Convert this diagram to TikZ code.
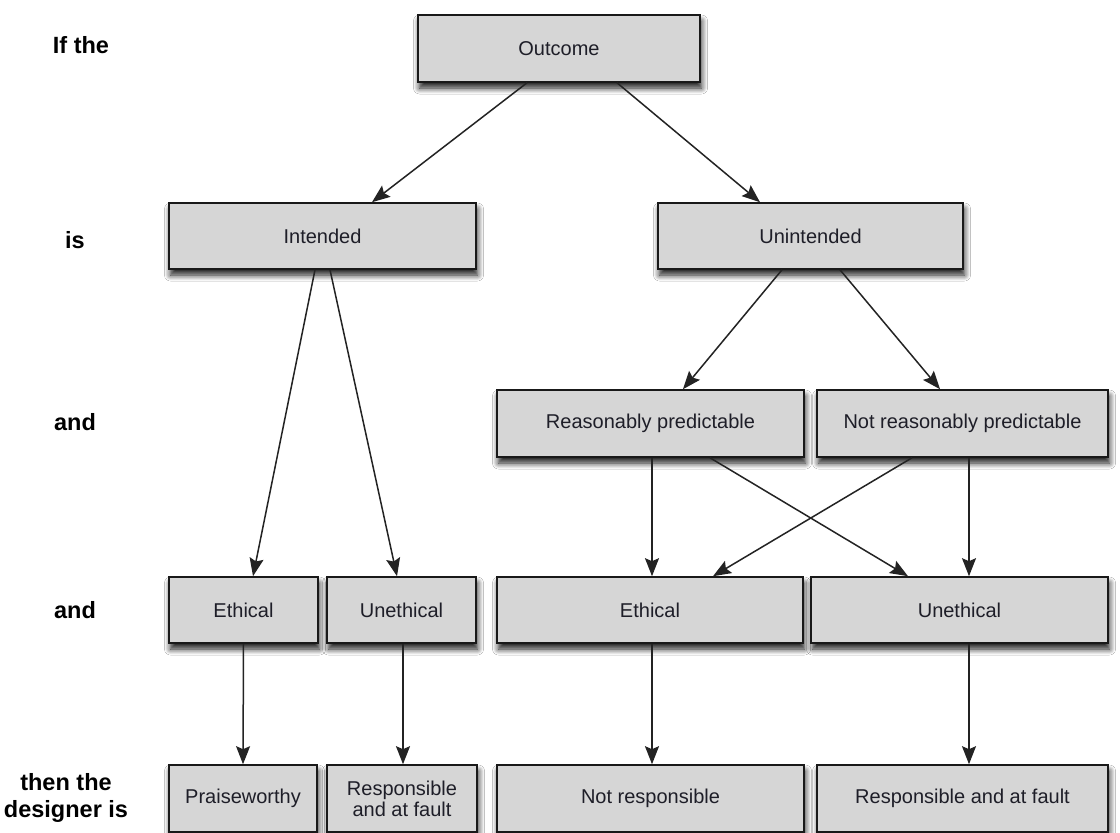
\documentclass[tikz,border=0pt]{standalone}
\usepackage{fontspec}
\setmainfont{Liberation Sans}
\usetikzlibrary{arrows.meta,shadows.blur}
\definecolor{boxfill}{RGB}{214,214,214}
\definecolor{boxline}{RGB}{25,25,25}
\definecolor{wire}{RGB}{35,35,35}
\definecolor{ink}{RGB}{30,30,40}
\begin{document}
\begin{tikzpicture}[x=1pt,y=-1pt,
  box/.style={draw=boxline,line width=1.6pt,fill=boxfill,inner sep=2pt,
    text=ink,font=\fontsize{20}{23}\selectfont,align=center,
    blur shadow={shadow xshift=1.5pt,shadow yshift=-6pt,shadow blur radius=6pt,
      shadow blur steps=8,shadow opacity=90}},
  rowlabel/.style={font=\fontsize{23.5}{27}\selectfont\bfseries,align=center,text=black},
  link/.style={draw=wire,line width=1.5pt,-{Stealth[length=18pt,width=14pt,inset=3pt]}}]
\useasboundingbox (0,0) rectangle (1120,833);
\fill[white] (0,0) rectangle (1120,833);

% row labels
\node[rowlabel] (lab1) at (81,45) {If the};
\node[rowlabel] (lab2) at (75,240) {is};
\node[rowlabel] (lab3) at (75,422) {and};
\node[rowlabel] (lab4) at (75,610) {and};
\node[rowlabel] (lab5) at (66,798) {then the\\designer is};

% boxes
\node[box,minimum width=282pt,minimum height=67pt] (out) at (559,48.5) {Outcome};
\node[box,minimum width=307pt,minimum height=66pt] (int) at (322.5,236) {Intended};
\node[box,minimum width=305pt,minimum height=66pt] (unint) at (810.5,236) {Unintended};
\node[box,minimum width=307pt,minimum height=67pt] (rp) at (650.5,423.5) {Reasonably predictable};
\node[box,minimum width=291pt,minimum height=67pt] (nrp) at (962.5,423.5) {Not reasonably predictable};
\node[box,minimum width=149pt,minimum height=66pt] (ethL) at (243.5,610) {Ethical};
\node[box,minimum width=149pt,minimum height=66pt] (unethL) at (401.5,610) {Unethical};
\node[box,minimum width=306pt,minimum height=66pt] (ethR) at (650,610) {Ethical};
\node[box,minimum width=297pt,minimum height=66pt] (unethR) at (959.5,610) {Unethical};
\node[box,minimum width=148pt,minimum height=67pt] (praise) at (243,798.5) {Praiseworthy};
\node[box,minimum width=150pt,minimum height=67pt] (respL) at (402,798.5) {Responsible\\[-2pt]and at fault};
\node[box,minimum width=307pt,minimum height=67pt] (notresp) at (650.5,798.5) {Not responsible};
\node[box,minimum width=291pt,minimum height=67pt] (respR) at (962.5,798.5) {Responsible and at fault};

% connectors
\draw[link] ([xshift=-32pt]out.south) -- ([xshift=49.5pt]int.north);
\draw[link] ([xshift=58pt]out.south) -- ([xshift=-50.5pt]unint.north);
\draw[link] ([xshift=-7.5pt]int.south) -- ([xshift=9.5pt]ethL.north);
\draw[link] ([xshift=7.5pt]int.south) -- ([xshift=-4.5pt]unethL.north);
\draw[link] ([xshift=-28.5pt]unint.south) -- ([xshift=32.5pt]rp.north);
\draw[link] ([xshift=29.5pt]unint.south) -- ([xshift=-22.5pt]nrp.north);
\draw[link] ([xshift=1.5pt]rp.south) -- ([xshift=2pt]ethR.north);
\draw[link] ([xshift=59.5pt]rp.south) -- ([xshift=-51.5pt]unethR.north);
\draw[link] ([xshift=-50.5pt]nrp.south) -- ([xshift=63pt]ethR.north);
\draw[link] ([xshift=6.5pt]nrp.south) -- ([xshift=9.5pt]unethR.north);
\draw[link] (ethL.south) -- (praise.north);
\draw[link] ([xshift=1.5pt]unethL.south) -- ([xshift=1pt]respL.north);
\draw[link] ([xshift=2pt]ethR.south) -- ([xshift=1.5pt]notresp.north);
\draw[link] ([xshift=9.5pt]unethR.south) -- ([xshift=6.5pt]respR.north);
\end{tikzpicture}
\end{document}
